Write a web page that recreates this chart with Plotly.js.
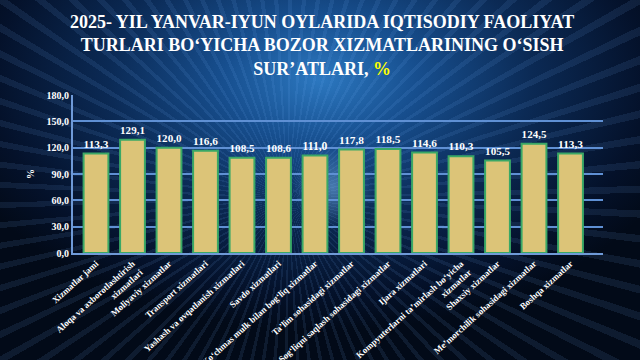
<!DOCTYPE html>
<html><head><meta charset="utf-8">
<script src="https://cdn.plot.ly/plotly-3.0.1.min.js"></script>
<style>
html,body{margin:0;padding:0;width:640px;height:360px;overflow:hidden;}
body{background:
 radial-gradient(circle 40px at 52% 52%, rgba(140,200,255,0.45) 0%, rgba(0,0,0,0) 100%),
 repeating-conic-gradient(from 0deg at 45% 55%, rgba(120,180,255,0.10) 0deg 1.2deg, rgba(0,0,0,0) 1.2deg 4deg),
 radial-gradient(ellipse 60% 70% at 50% 22%, #2c78c0 0%, #174f8f 25%, #0b2a55 55%, #04112a 85%, #020a18 100%);}
#chart{width:640px;height:360px;}
</style></head>
<body><div id="chart"></div>
<script>
const categories = [
 "Xizmatlar jami",
 "Aloqa va axborotlashtirish<br>xizmatlari",
 "Moliyaviy xizmatlar",
 "Transport xizmatlari",
 "Yashash va ovqatlanish xizmatlari",
 "Savdo xizmatlari",
 "Ko‘chmas mulk bilan bog‘liq xizmatlar",
 "Ta’lim sohasidagi xizmatlar",
 "Sog‘liqni saqlash sohasidagi xizmatlar",
 "Ijara xizmatlari",
 "Kompyuterlarni ta’mirlash bo‘yicha<br>xizmatlar",
 "Shaxsiy xizmatlar",
 "Me’morchilik sohasidagi xizmatlar",
 "Boshqa xizmatlar"
];
const values = [113.3, 129.1, 120.0, 116.6, 108.5, 108.6, 111.0, 117.8, 118.5, 114.6, 110.3, 105.5, 124.5, 113.3];
const yTicks = [0, 30, 60, 90, 120, 150, 180];

const serif = "Liberation Serif, Times New Roman, serif";
const trace = {
  type: "bar",
  x: categories,
  y: values,
  width: 0.68,
  marker: {color: "#dcc478", line: {color: "#3aa866", width: 2}},
  text: values.map(v => v.toFixed(1).replace(".", ",")),
  textposition: "outside",
  cliponaxis: false,
  textfont: {family: serif, size: 12, color: "#ffffff", weight: "bold"},
  hoverinfo: "skip"
};
const layout = {
  width: 640, height: 360,
  paper_bgcolor: "rgba(0,0,0,0)",
  plot_bgcolor: "rgba(0,0,0,0)",
  margin: {l: 73, r: 37, t: 95, b: 107},
  showlegend: false,
  annotations: [{
    text: "<b>2025- YIL YANVAR-IYUN OYLARIDA IQTISODIY FAOLIYAT<br>TURLARI BO‘YICHA BOZOR XIZMATLARINING O‘SISH<br>SUR’ATLARI, <span style='color:#ffff00'>%</span></b>",
    font: {family: serif, size: 18, color: "#ffffff"},
    xref: "paper", yref: "paper", x: 0.47, y: 1, xanchor: "center", yanchor: "bottom",
    yshift: 14, showarrow: false, align: "center"
  }],
  separators: ",.",
  xaxis: {
    range: [-0.63, 13.89],
    tickangle: -42,
    automargin: false,
    tickfont: {family: serif, size: 9, color: "#ffffff", weight: "bold"},
    showline: true, linecolor: "#6f9ad8", linewidth: 2,
    showgrid: false, ticks: ""
  },
  yaxis: {
    range: [0, 180],
    tickvals: yTicks,
    tickformat: ".1f",
    automargin: false,
    tickfont: {family: serif, size: 10, color: "#ffffff", weight: "bold"},
    showline: true, linecolor: "#6f9ad8", linewidth: 2,
    gridcolor: "#5f90d4", gridwidth: 2,
    zeroline: false, ticks: "",
    title: {text: "<b>%</b>", font: {family: serif, size: 10, color: "#ffffff"}, standoff: 10}
  },
  bargap: 0.3
};
Plotly.newPlot("chart", [trace], layout, {displayModeBar: false, staticPlot: true});
</script></body></html>
